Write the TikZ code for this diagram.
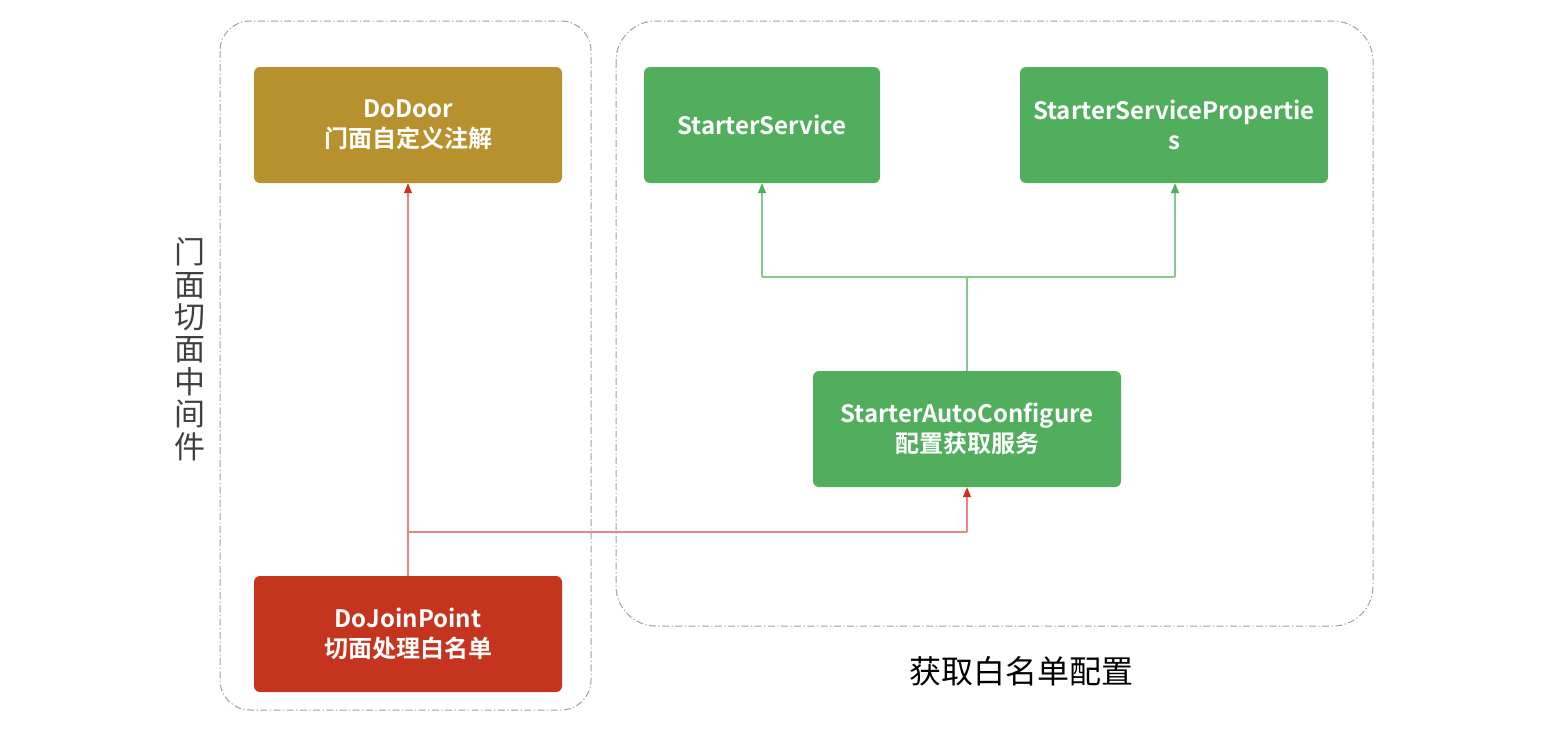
\documentclass[tikz,border=0pt]{standalone}
\usepackage{fontspec}
\setmainfont{Noto Sans CJK SC}
\newfontfamily\cjkb{Noto Sans CJK SC Bold}
\usetikzlibrary{arrows.meta}
\definecolor{gold}{HTML}{B8912F}
\definecolor{redbox}{HTML}{C5341F}
\definecolor{greenbox}{HTML}{50AE5C}
\definecolor{redline}{HTML}{E8877C}
\definecolor{greenline}{HTML}{86C792}
\definecolor{dashgray}{HTML}{A0A0A0}
\begin{document}
\begin{tikzpicture}[x=1pt,y=-1pt,
  container/.style={draw=dashgray, line width=1pt, dash pattern=on 7pt off 2.5pt on 1.2pt off 2.5pt},
  box/.style={rounded corners=6pt, inner sep=0pt, text=white, align=center,
    font=\cjkb\fontsize{24}{30}\selectfont},
  redarrow/.style={draw=redline, line width=1.3pt, -{Triangle[length=10pt,width=8pt,color=redbox]}},
  greenarrow/.style={draw=greenline, line width=1.3pt, -{Triangle[length=10pt,width=8pt,color=greenbox]}},
  redlink/.style={draw=redline, line width=1.3pt},
  greenlink/.style={draw=greenline, line width=1.3pt},
  label/.style={inner sep=0pt, align=center}
]
\useasboundingbox (0,0) rectangle (1560,732);
% containers
\draw[container, rounded corners=30pt] (220,21) rectangle (591,710);
\draw[container, rounded corners=40pt] (616,21) rectangle (1373,626);
% boxes
\node[box, fill=gold, minimum width=308pt, minimum height=116pt] (door) at (408,125) {DoDoor\\门面自定义注解};
\node[box, fill=redbox, minimum width=308pt, minimum height=116pt] (join) at (408,634) {DoJoinPoint\\切面处理白名单};
\node[box, fill=greenbox, minimum width=236pt, minimum height=116pt] (svc) at (762,125) {StarterService};
\node[box, fill=greenbox, minimum width=308pt, minimum height=116pt] (props) at (1174,125) {StarterServicePropertie\\s};
\node[box, fill=greenbox, minimum width=308pt, minimum height=116pt] (auto) at (967,429) {StarterAutoConfigure\\配置获取服务};
% junction coordinates
\coordinate (rj) at (408,532);
\coordinate (rk) at (967,532);
\coordinate (gj) at (967,277);
\coordinate (gl) at (762,277);
\coordinate (gr) at (1175,277);
% red connectors
\draw[redarrow] (join.north) -- (door.south);
\draw[redlink] (rj) -- (rk);
\draw[redarrow] (rk) -- (auto.south);
% green connectors
\draw[greenlink] (auto.north) -- (gj);
\draw[greenlink] (gl) -- (gr);
\draw[greenarrow] (gl) -- (svc.south);
\draw[greenarrow] (gr) -- (props.south -| gr);
% labels
\node[label, text={rgb,255:red,64;green,64;blue,64}, font=\fontsize{31}{32.4}\selectfont] (vlabel) at (190,349) {门\\面\\切\\面\\中\\间\\件};
\node[label, text=black, font=\fontsize{32}{36}\selectfont] (blabel) at (1021,671) {获取白名单配置};
\end{tikzpicture}
\end{document}
